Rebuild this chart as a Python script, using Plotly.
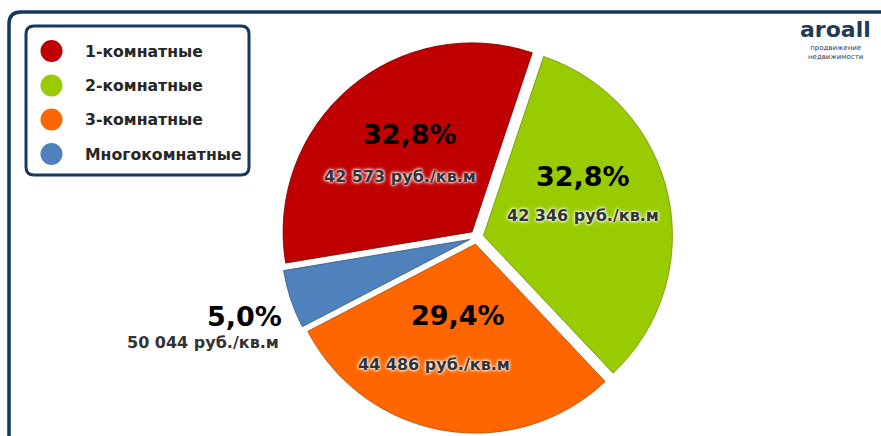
import plotly.graph_objects as go

W, H = 881, 436

categories = ["1-комнатные", "2-комнатные", "3-комнатные", "Многокомнатные"]
shares = [32.8, 32.8, 29.4, 5.0]
pct_labels = ["32,8%", "32,8%", "29,4%", "5,0%"]
price_labels = ["42 573 руб./кв.м", "42 346 руб./кв.м", "44 486 руб./кв.м", "50 044 руб./кв.м"]
colors = ["#C00000", "#99CC00", "#FF6600", "#4F81BD"]
edge_colors = ["#7a0000", "#6b8f00", "#b34700", "#35597f"]

NAVY = "#17375E"
FONT = "DejaVu Sans"


def px(x):
    return x / W


def py(y):
    return 1 - y / H


fig = go.Figure()

fig.add_trace(go.Pie(
    labels=categories,
    values=shares,
    sort=False,
    direction="clockwise",
    rotation=-99.5,
    pull=[0.037, 0.037, 0.037, 0.037],
    marker=dict(colors=colors, line=dict(color=edge_colors, width=0.8)),
    textinfo="none",
    hoverinfo="label+percent",
    showlegend=False,
    domain=dict(x=[px(280.6), px(672.6)], y=[py(433.2), py(41.2)]),
))

shapes = []


def rounded_rect(x0, y0, x1, y1, r):
    pts = [
        f"M {px(x0 + r)},{py(y0)}",
        f"L {px(x1 - r)},{py(y0)}",
        f"Q {px(x1)},{py(y0)} {px(x1)},{py(y0 + r)}",
        f"L {px(x1)},{py(y1 - r)}",
        f"Q {px(x1)},{py(y1)} {px(x1 - r)},{py(y1)}",
        f"L {px(x0 + r)},{py(y1)}",
        f"Q {px(x0)},{py(y1)} {px(x0)},{py(y1 - r)}",
        f"L {px(x0)},{py(y0 + r)}",
        f"Q {px(x0)},{py(y0)} {px(x0 + r)},{py(y0)}",
        "Z",
    ]
    return " ".join(pts)


# outer frame (open to right and bottom)
frame = (f"M {px(9)},{py(450)} L {px(9)},{py(24)} "
         f"Q {px(9)},{py(12)} {px(21)},{py(12)} L {px(900)},{py(12)}")
shapes.append(dict(type="path", path=frame, xref="paper", yref="paper",
                   line=dict(color=NAVY, width=3.5), layer="below"))

# legend box
shapes.append(dict(type="path", path=rounded_rect(26, 26, 249, 175, 8), xref="paper", yref="paper",
                   line=dict(color=NAVY, width=3), fillcolor="white", layer="below"))

annotations = []
leg_y = [51, 85.5, 119.5, 154]
for i, cat in enumerate(categories):
    cy = leg_y[i]
    shapes.append(dict(type="circle", xref="paper", yref="paper",
                       x0=px(40.5), x1=px(62.5), y0=py(cy + 11), y1=py(cy - 11),
                       fillcolor=colors[i], line=dict(width=0)))
    annotations.append(dict(text=f"<b>{cat}</b>", x=px(83), y=py(cy), xref="paper", yref="paper",
                            xanchor="left", yanchor="middle", showarrow=False,
                            font=dict(family=FONT, size=15.7, color="#262626")))

# slice labels
pct_pos = [(410, 134, "center"), (583, 177, "center"), (458, 315, "center"), (284, 316, "right")]
price_pos = [(400, 176, "center"), (583, 215, "center"), (434, 364, "center"), (281, 342, "right")]
glow = "0px 0px 2px #ffffff, 0px 0px 3px #ffffff, 0px 0px 4px #ffffff"
for i in range(len(categories)):
    x, y, anc = pct_pos[i]
    annotations.append(dict(text=f"<b>{pct_labels[i]}</b>", x=px(x), y=py(y), xref="paper", yref="paper",
                            xanchor=anc, yanchor="middle", showarrow=False,
                            font=dict(family=FONT, size=27, color="#000000")))
    x, y, anc = price_pos[i]
    annotations.append(dict(text=f"<b>{price_labels[i]}</b>", x=px(x), y=py(y), xref="paper", yref="paper",
                            xanchor=anc, yanchor="middle", showarrow=False,
                            font=dict(family=FONT, size=16, color="#333333", shadow=glow)))

# logo
annotations.append(dict(text="<b>aroall</b>", x=px(835), y=py(43), xref="paper", yref="paper",
                        xanchor="center", yanchor="bottom", showarrow=False, borderpad=0,
                        font=dict(family=FONT, size=22, color="#1F3A5A")))
annotations.append(dict(text="продвижение<br>недвижимости", x=px(835), y=py(43.5), xref="paper", yref="paper",
                        xanchor="center", yanchor="top", showarrow=False, borderpad=0,
                        font=dict(family=FONT, size=7, color="#1F3A5A")))

fig.update_layout(
    width=W, height=H,
    margin=dict(l=0, r=0, t=0, b=0),
    paper_bgcolor="white",
    plot_bgcolor="white",
    shapes=shapes,
    annotations=annotations,
    showlegend=False,
)

fig.write_html("out.html", config={"displayModeBar": False},
               post_script="document.body.style.margin='0px';")
